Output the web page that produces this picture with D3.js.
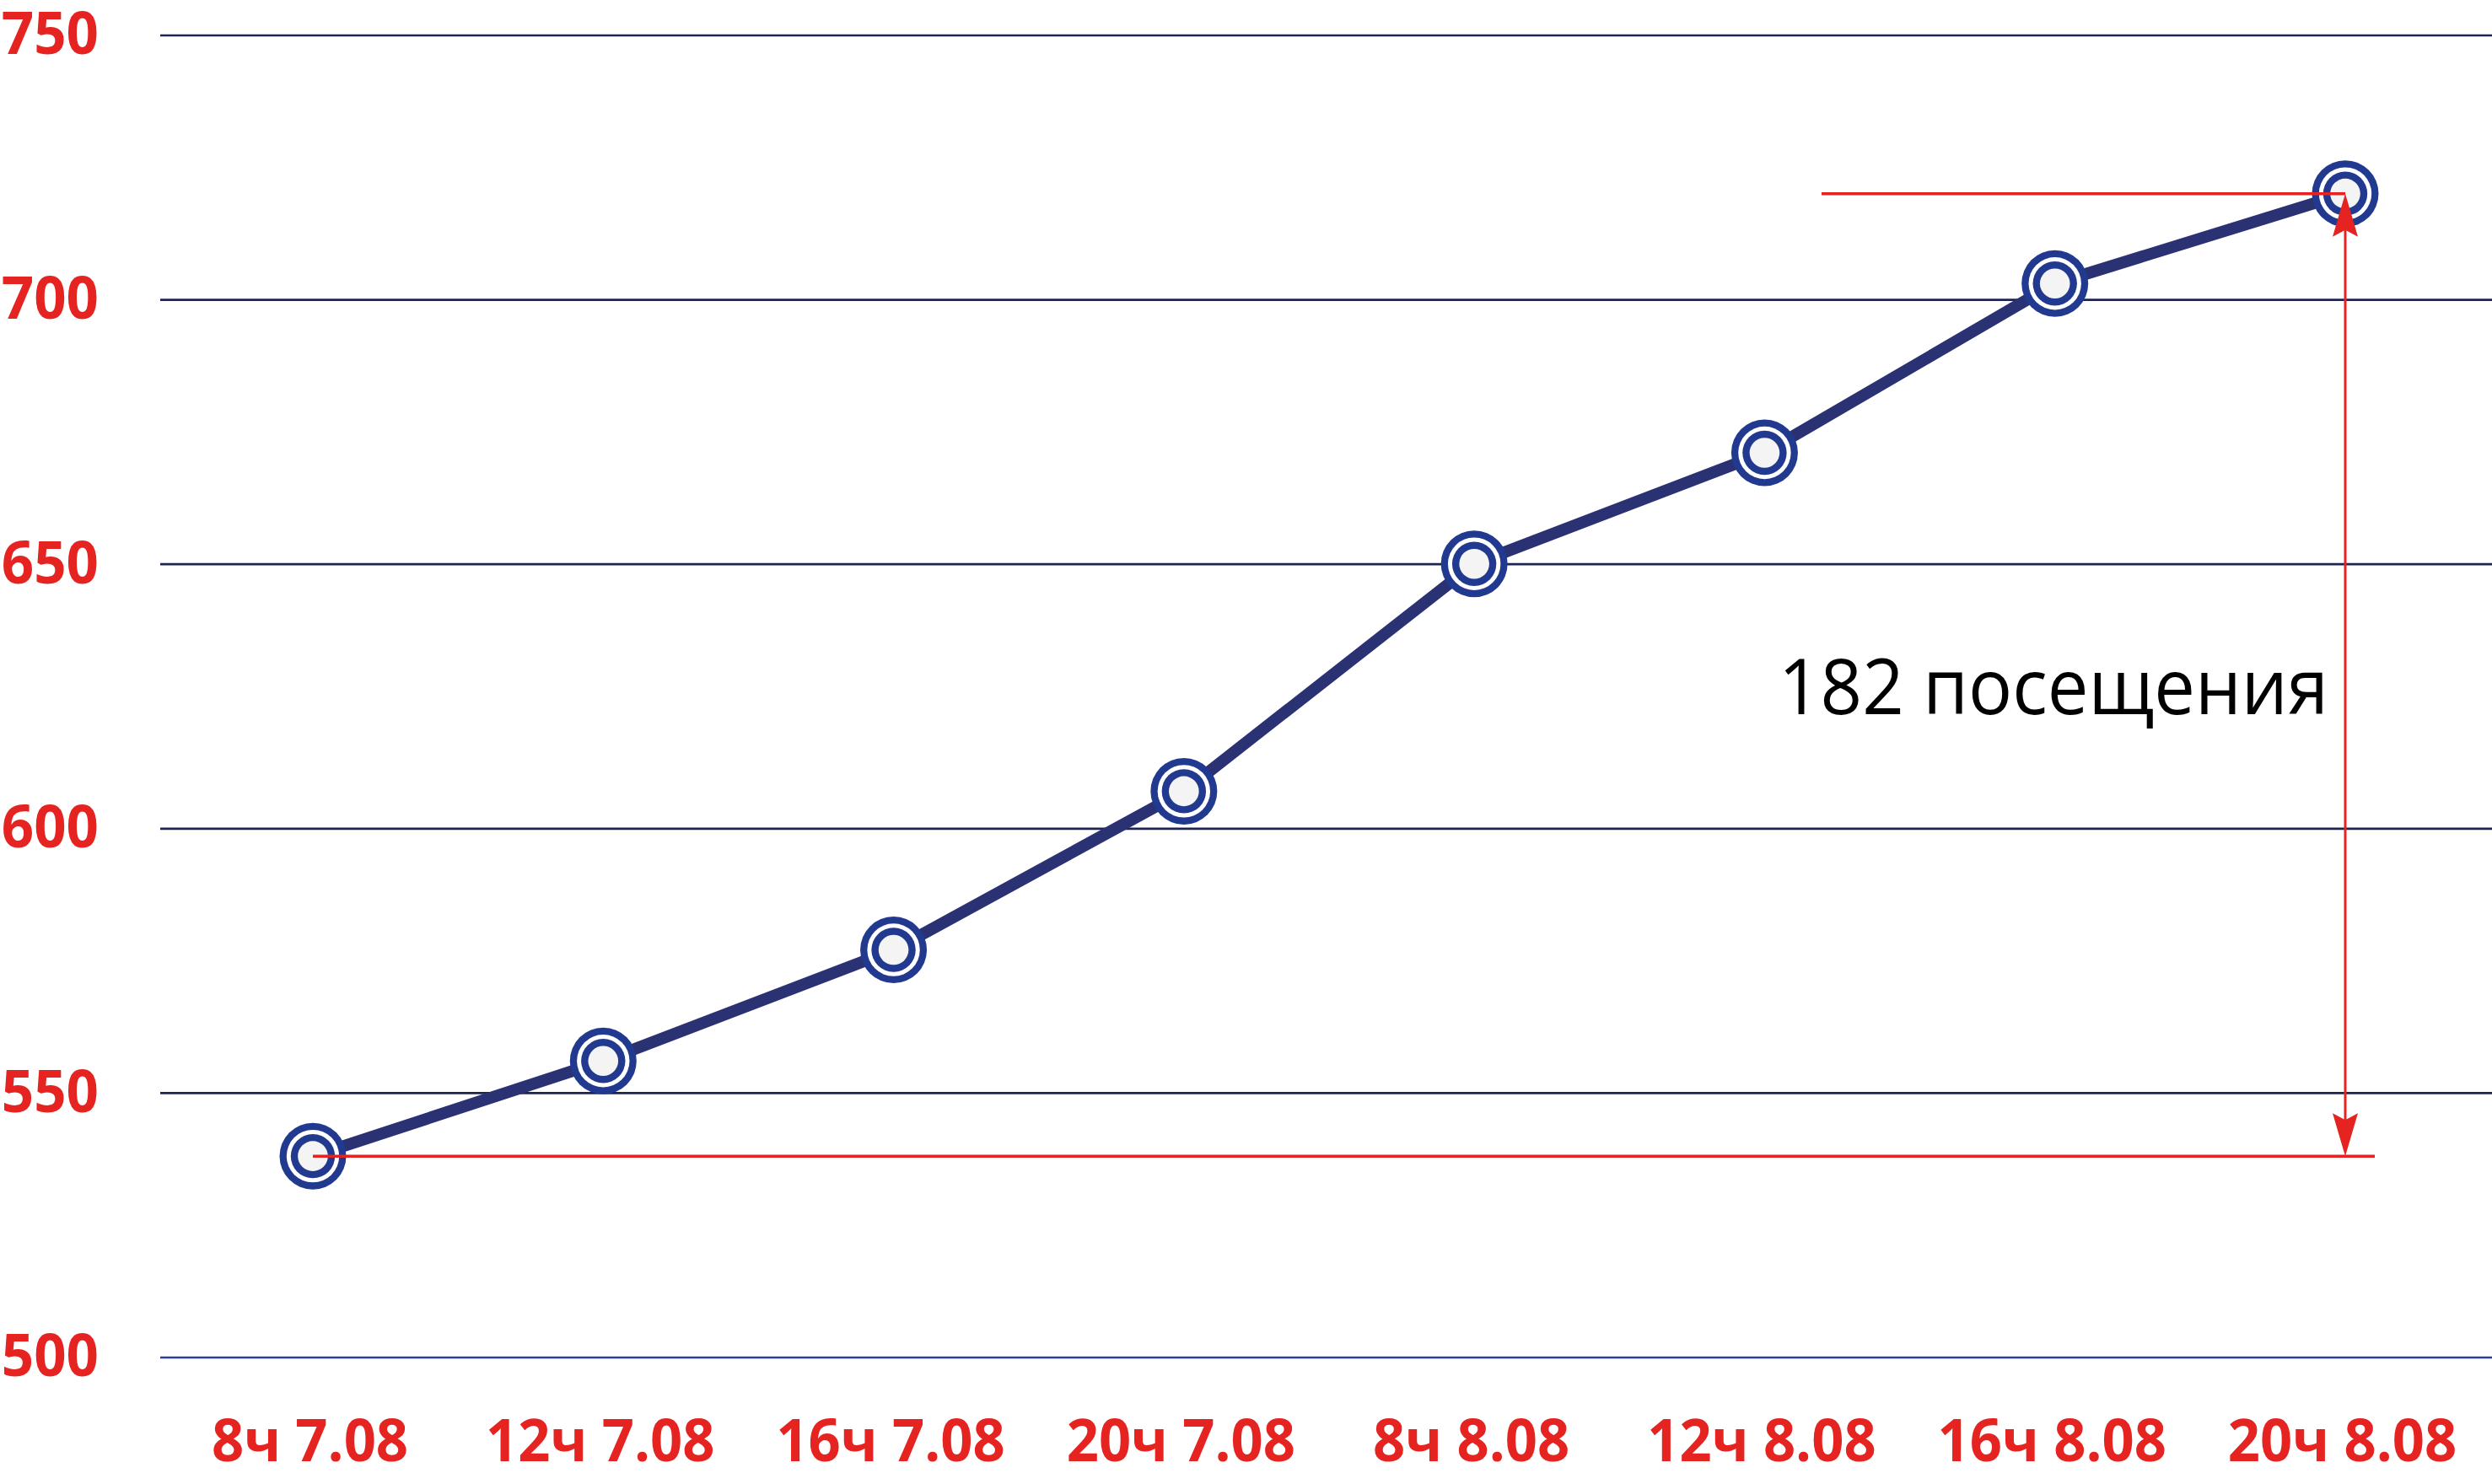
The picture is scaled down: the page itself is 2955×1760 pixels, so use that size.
<!DOCTYPE html>
<html>
<head>
<meta charset="utf-8">
<script src="https://cdn.jsdelivr.net/npm/d3@7"></script>
<style>
  html, body { margin: 0; padding: 0; background: #fff; }
  svg { display: block; }
</style>
</head>
<body>
<svg width="2955" height="1760"></svg>
<script>
const categories = ['8ч 7.08', '12ч 7.08', '16ч 7.08', '20ч 7.08', '8ч 8.08', '12ч 8.08', '16ч 8.08', '20ч 8.08']
const visits = [538, 556, 577, 607, 650, 671, 703, 720]
const yTicks = [500, 550, 600, 650, 700, 750]

const width = 2955
const height = 1760
const red = '#e52421'
const navy = '#2b3274'
const ringBlue = '#213a8f'

const x = d3.scalePoint().domain(categories).range([371, 2781])
const y = d3.scaleLinear().domain([500, 750]).range([1609.5, 41.5])

const svg = d3.select('svg')

// grid + y labels
const yAxis = svg.append('g')
  .attr('transform', 'translate(190,0)')
  .call(d3.axisLeft(y).tickValues(yTicks).tickSize(-(width - 190)).tickPadding(73))

yAxis.select('.domain').remove()
yAxis.selectAll('line')
  .attr('stroke', d => d === 500 ? '#2c3e95' : '#1d2452')
  .attr('stroke-width', 2.7)
yAxis.selectAll('text')
  .attr('fill', red)
  .attr('font-family', 'Open Sans')
  .attr('font-weight', 700)
  .attr('font-size', 70)
  .each(function () {
    this.setAttribute('textLength', this.getComputedTextLength() * 0.96)
    this.setAttribute('lengthAdjust', 'spacingAndGlyphs')
  })

// x labels
const xAxis = svg.append('g')
  .attr('transform', 'translate(0,' + y(500) + ')')
  .call(d3.axisBottom(x).tickSize(0).tickPadding(74))

xAxis.select('.domain').remove()
xAxis.selectAll('text')
  .attr('fill', red)
  .attr('font-family', 'Open Sans')
  .attr('font-weight', 700)
  .attr('font-size', 70)
  .attr('dx', -4)
  .each(function () {
    this.setAttribute('textLength', this.getComputedTextLength() * 0.955)
    this.setAttribute('lengthAdjust', 'spacingAndGlyphs')
  })

// the series line
const line = d3.line()
  .x((d, i) => x(categories[i]))
  .y(d => y(d))

svg.append('path')
  .datum(visits)
  .attr('d', line)
  .attr('fill', 'none')
  .attr('stroke', navy)
  .attr('stroke-width', 14)
  .attr('stroke-linejoin', 'round')

// ring markers
const rings = [
  { r: 39.5, fill: ringBlue },
  { r: 31.2, fill: '#fff' },
  { r: 26.2, fill: ringBlue },
  { r: 17.8, fill: '#f4f4f4' },
]

const marker = svg.append('g')
  .selectAll('g')
  .data(visits)
  .join('g')
  .attr('transform', (d, i) => 'translate(' + x(categories[i]) + ',' + y(d) + ')')

rings.forEach(ring => {
  marker.append('circle')
    .attr('r', ring.r)
    .attr('fill', ring.fill)
})

// difference annotation
const first = visits[0]
const last = visits[visits.length - 1]
const xFirst = x(categories[0])
const xLast = x(categories[categories.length - 1])
const yTop = y(last)
const yBottom = y(first)

const note = svg.append('g')

note.append('line')
  .attr('x1', xLast - 621).attr('x2', xLast)
  .attr('y1', yTop).attr('y2', yTop)
  .attr('stroke', red).attr('stroke-width', 3.5)

note.append('line')
  .attr('x1', xFirst).attr('x2', xLast + 35)
  .attr('y1', yBottom).attr('y2', yBottom)
  .attr('stroke', red).attr('stroke-width', 3.5)

note.append('line')
  .attr('x1', xLast).attr('x2', xLast)
  .attr('y1', yTop + 40).attr('y2', yBottom - 40)
  .attr('stroke', red).attr('stroke-width', 3)

function arrowHead(tipY, dir) {
  // dir = 1 points up (body below tip), -1 points down
  return 'M' + xLast + ',' + tipY +
    'L' + (xLast + 15) + ',' + (tipY + dir * 51) +
    'L' + xLast + ',' + (tipY + dir * 43) +
    'L' + (xLast - 15) + ',' + (tipY + dir * 51) + 'Z'
}

note.append('path').attr('d', arrowHead(yTop, 1)).attr('fill', red)
note.append('path').attr('d', arrowHead(yBottom, -1)).attr('fill', red)

note.append('text')
  .attr('x', xLast - 20)
  .attr('y', (yTop + yBottom) / 2 + 47)
  .attr('text-anchor', 'end')
  .attr('font-family', 'Open Sans')
  .attr('font-size', 91)
  .attr('fill', '#000')
  .text((last - first) + ' посещения')
  .each(function () {
    this.setAttribute('textLength', 652)
    this.setAttribute('lengthAdjust', 'spacingAndGlyphs')
  })
</script>
</body>
</html>
